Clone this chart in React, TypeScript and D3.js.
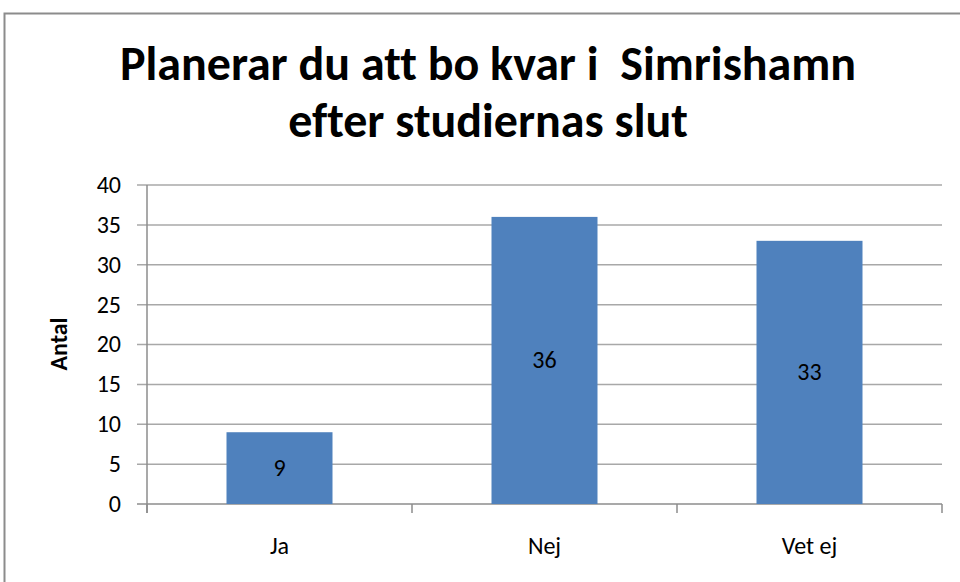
import * as d3 from "d3"
import React, { useEffect, useRef } from "react"

const categories = ["Ja", "Nej", "Vet ej"]
const values = [9, 36, 33]
const yTicks = [0, 5, 10, 15, 20, 25, 30, 35, 40]
const titleLines = ["Planerar du att bo kvar i  Simrishamn", "efter studiernas slut"]
const yLabel = "Antal"

const width = 960
const height = 582
const margin = { left: 147, right: 18, top: 185, bottom: 78 }
const font = "Carlito, Calibri, 'Liberation Sans', Arial, sans-serif"

const App = () => {
  const ref = useRef<SVGSVGElement>(null)

  useEffect(() => {
    const svg = d3.select(ref.current)
    svg.selectAll("*").remove()

    const innerW = width - margin.left - margin.right
    const innerH = height - margin.top - margin.bottom

    // chart frame
    svg
      .append("rect")
      .attr("x", 4.5)
      .attr("y", 13.5)
      .attr("width", width + 10)
      .attr("height", height + 10)
      .attr("fill", "#fff")
      .attr("stroke", "#8c8c8c")
      .attr("stroke-width", 2)

    const x = d3
      .scaleBand()
      .domain(categories)
      .range([0, innerW])
      .paddingInner(0.6)
      .paddingOuter(0.3)

    const y = d3.scaleLinear().domain([0, 40]).range([innerH, 0])

    const g = svg
      .append("g")
      .attr("transform", "translate(" + margin.left + "," + margin.top + ")")

    // gridlines + y ticks
    g.selectAll(".grid")
      .data(yTicks)
      .enter()
      .append("line")
      .attr("x1", -10)
      .attr("x2", innerW)
      .attr("y1", (d) => y(d))
      .attr("y2", (d) => y(d))
      .attr("stroke", (d) => (d === 0 ? "#8c8c8c" : "#a8a8a8"))
      .attr("stroke-width", 1.5)

    g.append("line")
      .attr("x1", 0)
      .attr("x2", 0)
      .attr("y1", 0)
      .attr("y2", innerH + 9)
      .attr("stroke", "#8c8c8c")
      .attr("stroke-width", 1.5)

    // category boundary ticks
    const step = innerW / categories.length
    g.selectAll(".xtick")
      .data(d3.range(categories.length + 1))
      .enter()
      .append("line")
      .attr("x1", (i) => i * step)
      .attr("x2", (i) => i * step)
      .attr("y1", innerH)
      .attr("y2", innerH + 9)
      .attr("stroke", "#8c8c8c")
      .attr("stroke-width", 1.5)

    g.selectAll(".ylab")
      .data(yTicks)
      .enter()
      .append("text")
      .attr("x", -26)
      .attr("y", (d) => y(d))
      .attr("dy", "0.33em")
      .attr("text-anchor", "end")
      .attr("font-family", font)
      .attr("font-size", 24)
      .attr("fill", "#000")
      .text((d) => d)

    // bars
    g.selectAll(".bar")
      .data(values)
      .enter()
      .append("rect")
      .attr("x", (d, i) => x(categories[i]) as number)
      .attr("y", (d) => y(d))
      .attr("width", x.bandwidth())
      .attr("height", (d) => innerH - y(d))
      .attr("fill", "#4f81bd")

    g.selectAll(".val")
      .data(values)
      .enter()
      .append("text")
      .attr("x", (d, i) => (x(categories[i]) as number) + x.bandwidth() / 2)
      .attr("y", (d) => (y(d) + innerH) / 2)
      .attr("dy", "0.33em")
      .attr("text-anchor", "middle")
      .attr("font-family", font)
      .attr("font-size", 24)
      .attr("fill", "#000")
      .text((d) => d)

    g.selectAll(".cat")
      .data(categories)
      .enter()
      .append("text")
      .attr("x", (d) => (x(d) as number) + x.bandwidth() / 2)
      .attr("y", innerH + 50)
      .attr("text-anchor", "middle")
      .attr("font-family", font)
      .attr("font-size", 24)
      .attr("fill", "#000")
      .text((d) => d)

    // axis title
    svg
      .append("text")
      .attr("transform", "translate(67,344) rotate(-90)")
      .attr("text-anchor", "middle")
      .attr("font-family", font)
      .attr("font-weight", "bold")
      .attr("font-size", 24)
      .attr("fill", "#000")
      .text(yLabel)

    // chart title (no ligatures, like the original)
    svg
      .selectAll(".title")
      .data(titleLines)
      .enter()
      .append("text")
      .attr("x", 488)
      .attr("y", (d, i) => 80 + i * 57)
      .attr("text-anchor", "middle")
      .attr("font-family", font)
      .attr("font-weight", "bold")
      .attr("font-size", 48)
      .attr("fill", "#000")
      .style("white-space", "pre")
      .style("font-variant-ligatures", "none")
      .text((d) => d)
  }, [])

  return (
    <svg
      ref={ref}
      width={width}
      height={height}
      viewBox={`0 0 ${width} ${height}`}
      style={{ position: "absolute", left: 0, top: 0 }}
    />
  )
}

export default App
